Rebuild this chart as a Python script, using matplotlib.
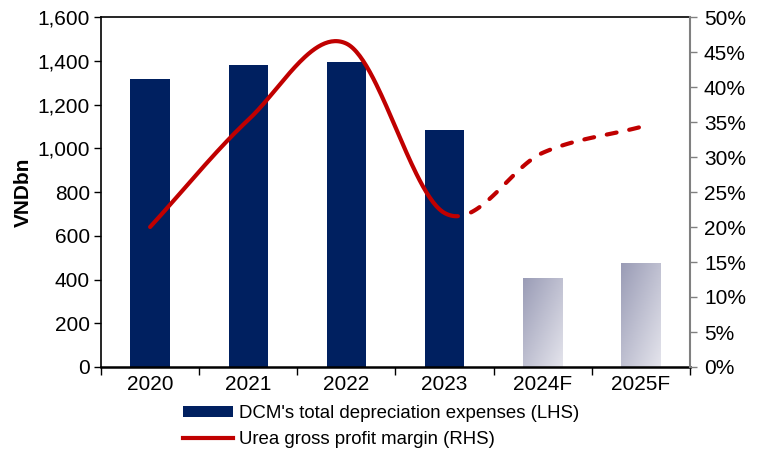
import numpy as np
import matplotlib
matplotlib.use("Agg")
import matplotlib.pyplot as plt
from matplotlib.patches import Patch
from matplotlib.lines import Line2D
from matplotlib.colors import LinearSegmentedColormap

plt.rcParams['font.family'] = ['Liberation Sans', 'DejaVu Sans']

categories = ['2020', '2021', '2022', '2023', '2024F', '2025F']
depreciation = [1317, 1381, 1394, 1083, 407, 475]
margin = [20.0, 35.3, 46.2, 22.0, 30.6, 34.3]
forecast = [False, False, False, False, True, True]

fs = 15
fig = plt.figure(figsize=(7.66, 4.53), dpi=100)
ax = fig.add_axes([101/766, 1-367/453, 589/766, 350/453])
ax2 = ax.twinx()

x = np.arange(len(categories))
navy = '#002060'
red = '#C00000'
bw = 0.4
bars = ax.bar(x, depreciation, width=bw, color=navy, zorder=2)
cmap = LinearSegmentedColormap.from_list('g', ['#9A9CB6', '#E4E4EC'])
for b, f in zip(bars, forecast):
    if f:
        b.set_facecolor('none')
        x0, y0 = b.get_x(), 0
        w, h = b.get_width(), b.get_height()
        gx, gy = np.meshgrid(np.linspace(0, 1, 50), np.linspace(0, 1, 50))
        grad = (gx + gy) / 2
        im = ax.imshow(grad, cmap=cmap, extent=[x0, x0 + w, y0, y0 + h],
                       origin='upper', aspect='auto', zorder=2)
        im.set_clip_path(b)

ax.set_xlim(-0.5, len(categories) - 0.5)
ax.set_ylim(0, 1600)
ax.set_yticks(np.arange(0, 1601, 200))
ax.set_yticklabels([f'{v:,}' for v in range(0, 1601, 200)])
ax.set_xticks(x)
ax.set_xticklabels(categories)
ax.set_xticks(np.arange(-0.5, len(categories), 1), minor=True)
ax.tick_params(axis='x', which='major', length=0, pad=6, labelsize=fs)
ax.tick_params(axis='x', which='minor', length=6, width=1, direction='out', color='black')
ax.tick_params(axis='y', length=5, width=1, direction='out', labelsize=fs, pad=3)
ax.set_ylabel('VNDbn', fontsize=fs, fontweight='bold', labelpad=3)
for s in ['left', 'bottom', 'top']:
    ax.spines[s].set_color('black')
    ax.spines[s].set_linewidth(1.2)
ax.spines['bottom'].set_linewidth(1.8)
ax.spines['right'].set_visible(False)

# smooth curve (Catmull-Rom) through margin points
def catmull(px, py, n=60):
    px = np.asarray(px, float); py = np.asarray(py, float)
    P = np.column_stack([px, py])
    P = np.vstack([2*P[0]-P[1], P, 2*P[-1]-P[-2]])
    segs = []
    for i in range(1, len(P)-2):
        p0, p1, p2, p3 = P[i-1], P[i], P[i+1], P[i+2]
        t = np.linspace(0, 1, n)[:, None]
        m1 = (p2 - p0) / 2; m2 = (p3 - p1) / 2
        h00 = 2*t**3 - 3*t**2 + 1; h10 = t**3 - 2*t**2 + t
        h01 = -2*t**3 + 3*t**2; h11 = t**3 - t**2
        segs.append(h00*p1 + h10*m1 + h01*p2 + h11*m2)
    return np.vstack(segs)

curve = catmull(x, margin)
split = 3.14
solid = curve[curve[:, 0] <= split]
dashed = curve[curve[:, 0] >= split]
lw = 3.0
ax2.plot(solid[:, 0], solid[:, 1], color=red, lw=lw, zorder=3,
         solid_capstyle='round', solid_joinstyle='round')
ax2.plot(dashed[:, 0], dashed[:, 1], color=red, lw=lw, ls=(2.6, (2.4, 3.1)),
         dash_capstyle='round', zorder=3)
ax2.set_ylim(0, 50)
ax2.set_yticks(np.arange(0, 51, 5))
ax2.set_yticklabels([f'{v}%' for v in range(0, 51, 5)])
ax2.tick_params(axis='y', length=5, width=1, direction='out', labelsize=fs, color='#808080', pad=5)
for s in ['left', 'bottom', 'top']:
    ax2.spines[s].set_visible(False)
ax2.spines['right'].set_color('#808080')
ax2.spines['right'].set_linewidth(1.5)

handles = [Patch(facecolor=navy, edgecolor='none'),
           Line2D([0], [0], color=red, lw=lw)]
labels = ["DCM's total depreciation expenses (LHS)", 'Urea gross profit margin (RHS)']
fig.legend(handles, labels, loc='upper left', bbox_to_anchor=(183/766, 1-405/453),
           frameon=False, fontsize=13.4, handlelength=2.7, handleheight=0.6,
           handletextpad=0.3, labelspacing=0.5, borderaxespad=0, borderpad=0)

fig.savefig('out.png', dpi=100)
